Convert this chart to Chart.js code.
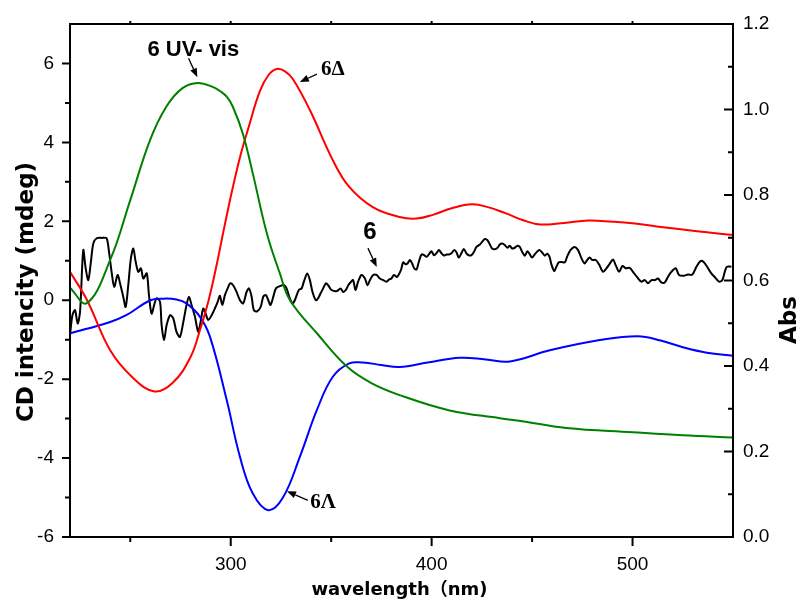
<!DOCTYPE html>
<html>
<head>
<meta charset="utf-8">
<script src="https://cdn.jsdelivr.net/npm/chart.js@4/dist/chart.umd.min.js"></script>
<style>
html,body{margin:0;padding:0;background:#fff;}
#wrap{width:803px;height:606px;position:relative;}
</style>
</head>
<body>
<div id="wrap"><canvas id="c"></canvas></div>
<script>
// ---- data (wavelength in nm) ----
const redWl  = [220,228.5,240,251,262,271,280,285,289,293,297,301,305,309,314.5,319,323,327,331,339.4,350.8,359,370.7,384,392.6,401,410,420,428,437,446,454,466,478,490,500,512,525,537,550];
const redCd  = [0.72,0,-1.27,-1.95,-2.31,-2.1,-1.44,-0.7,0,0.9,1.9,2.85,3.7,4.4,5.3,5.72,5.86,5.8,5.6,4.82,3.55,2.87,2.36,2.11,2.07,2.17,2.33,2.43,2.36,2.2,2.02,1.92,1.96,2.02,1.99,1.95,1.87,1.79,1.72,1.65];

const blueWl = [220,240,248,260,266.4,273,278,284.7,289.7,298,304.6,311,318.7,326,334.4,342.9,350.8,359,365.8,375,384,398,414,427,439,458.8,483.7,502.6,514,525,537,550];
const blueCd = [-0.84,-0.55,-0.38,0,0.04,0.02,-0.08,-0.42,-0.93,-2.53,-3.97,-4.9,-5.32,-5.0,-3.97,-2.78,-1.94,-1.6,-1.58,-1.64,-1.69,-1.58,-1.46,-1.5,-1.55,-1.27,-1.01,-0.91,-1.02,-1.19,-1.33,-1.41];

const greenWl  = [220,228.4,240,250,259.8,268,276,283.7,291,295,298,301,306,311,318,324.5,329.5,343,358,370,384,409,434,445,467,500,525,550];
const greenAbs = [0.583,0.547,0.648,0.788,0.928,1.007,1.05,1.062,1.053,1.042,1.03,1.007,0.944,0.85,0.71,0.616,0.554,0.476,0.398,0.36,0.332,0.296,0.278,0.271,0.255,0.245,0.238,0.233];

const blackWl = [220.0,221.2,222.5,223.8,225.0,226.6,227.8,229.1,230.4,231.6,233.3,235.8,238.2,239.4,240.7,242.0,243.7,244.9,246.5,247.7,249.0,250.3,251.5,252.7,254.0,255.3,256.5,258.2,259.3,260.6,261.9,263.1,264.8,265.6,266.8,268.1,269.8,271.4,273.0,274.7,276.4,278.0,279.2,280.5,282.2,283.8,285.0,286.3,287.5,288.8,290.5,292.1,293.5,294.6,295.8,297.1,298.8,299.8,301.2,302.9,304.6,306.2,307.9,309.1,310.4,311.5,313.2,314.9,316.2,317.5,318.7,319.8,321.2,322.5,324.5,326.6,327.8,329.1,330.7,331.9,333.9,335.3,336.4,338.1,339.4,340.7,342.4,343.5,344.7,346.0,347.4,348.5,350.2,352.7,354.7,356.0,357.3,358.5,359.6,360.9,362.1,363.4,365.1,366.8,368.1,369.3,370.9,372.6,374.2,375.9,377.5,378.9,380.0,381.2,382.8,384.7,385.8,387.0,388.0,389.2,390.3,391.3,392.5,393.6,395.0,396.3,397.5,398.6,399.9,401.2,402.4,403.6,404.9,406.2,407.4,408.6,409.9,411.2,412.4,413.5,414.8,416.0,417.3,418.5,419.8,421.1,422.3,424.0,425.1,426.5,427.8,429.0,430.1,431.4,432.8,433.9,435.1,436.4,437.7,438.9,440.0,441.4,442.7,443.9,445.0,446.4,447.7,448.9,450.0,451.3,452.7,453.8,455.0,456.3,457.6,458.7,459.6,461.0,462.1,463.3,464.6,466.3,467.4,469.1,471.2,472.9,474.6,476.2,477.4,478.7,480.0,481.7,483.3,485.3,487.0,488.7,490.3,491.6,493.3,495.0,496.6,498.6,500.2,502.2,504.4,506.1,507.7,509.4,511.0,512.7,514.3,516.0,517.6,519.3,521.5,523.1,525.5,527.6,529.8,531.8,533.8,535.4,537.1,539.2,540.9,543.0,544.7,545.9,547.0,549.2];
const blackCd = [-0.89,-0.38,-0.25,-0.59,-0.29,1.27,0.81,0.51,0.97,1.44,1.57,1.58,1.57,1.23,0.72,0.34,0.64,0.43,0.09,-0.17,0.38,1.06,1.31,0.97,0.72,0.81,0.55,0.68,0.13,-0.34,-0.12,0.05,-0.04,-0.63,-1.01,-0.63,-0.38,-0.46,-0.80,-0.93,-0.55,-0.12,0.09,-0.12,-0.42,-0.80,-0.55,-0.21,-0.34,-0.50,-0.38,-0.21,-0.04,0.11,-0.12,0.13,0.34,0.43,0.38,0.21,0.0,-0.08,0.21,0.30,0.09,-0.25,-0.28,-0.17,0.09,0.13,0.0,-0.12,0.09,0.30,0.36,0.38,0.30,0.09,-0.08,0.0,0.26,0.30,0.47,0.68,0.51,0.21,0.0,0.05,0.17,0.30,0.43,0.38,0.26,0.23,0.30,0.21,0.26,0.38,0.45,0.51,0.26,0.47,0.64,0.55,0.38,0.51,0.64,0.64,0.55,0.51,0.47,0.53,0.55,0.64,0.59,0.76,0.96,0.91,0.93,1.02,0.93,0.81,0.78,0.97,1.16,1.14,1.10,1.16,1.24,1.14,1.19,1.27,1.19,1.13,1.16,1.16,1.19,1.27,1.21,1.08,1.19,1.30,1.19,1.14,1.14,1.23,1.35,1.41,1.48,1.55,1.52,1.41,1.31,1.29,1.33,1.41,1.44,1.40,1.33,1.38,1.31,1.33,1.38,1.35,1.23,1.13,1.24,1.16,1.08,1.16,1.24,1.27,1.21,1.13,1.18,1.10,0.91,0.74,0.85,0.96,0.97,0.96,1.10,1.27,1.35,1.27,1.06,0.93,1.02,1.08,1.02,1.02,0.91,0.72,0.81,0.93,1.03,0.89,0.72,0.87,0.81,0.82,0.72,0.59,0.47,0.51,0.43,0.51,0.51,0.55,0.45,0.45,0.59,0.72,0.81,0.64,0.62,0.65,0.65,0.85,0.99,0.97,0.85,0.68,0.59,0.47,0.51,0.72,0.85,0.85];

// ---- tick labels ----
const xTickLabels      = [300,400,500];
const yLeftTickLabels  = [-6,-4,-2,0,2,4,6];
const yRightTickLabels = [0.0,0.2,0.4,0.6,0.8,1.0,1.2];

// ---- annotations (text, anchor in data units) ----
const annotations = [
  {text:'6 UV- vis', wl:281.4, cd:6.34, font:'bold 22px "Liberation Sans"', arrow:[279,6.13,283.4,5.65]},
  {text:'6\u0394', wl:350.8, cd:5.84, font:'bold 21px "Liberation Serif"', arrow:[342.9,5.73,334.4,5.53]},
  {text:'6', wl:369.3, cd:1.71, font:'bold 24px "Liberation Sans"', arrow:[368.3,1.32,372.7,0.84]},
  {text:'6\u039B', wl:346.0, cd:-5.13, font:'bold 21px "Liberation Serif"', arrow:[338.4,-5.07,328,-4.84]}
];

const pts = (xs, ys) => xs.map((x,i)=>({x:x, y:ys[i]}));

const framePlugin = {
  id:'frame',
  afterDatasetsDraw(chart){
    const {ctx, chartArea:a, scales} = chart;
    const sx = scales.x, sy = scales.y, sy2 = scales.y2;
    ctx.save();
    ctx.strokeStyle = '#000';
    ctx.lineWidth = 2;
    ctx.strokeRect(a.left, a.top, a.right - a.left, a.bottom - a.top);
    ctx.beginPath();
    for (let v = -6; v <= 6; v++) {
      const p = sy.getPixelForValue(v);
      const len = (v % 2 === 0) ? 8 : 5;
      ctx.moveTo(a.left - len, p); ctx.lineTo(a.left, p);
    }
    for (let k = 0; k <= 12; k++) {
      const p = sy2.getPixelForValue(k/10);
      const len = (k % 2 === 0) ? 9 : 5;
      ctx.moveTo(a.right - len, p); ctx.lineTo(a.right, p);
    }
    for (let v = 250; v <= 500; v += 50) {
      const p = sx.getPixelForValue(v);
      const len = (v % 100 === 0) ? 9 : 5;
      ctx.moveTo(p, a.bottom); ctx.lineTo(p, a.bottom + len);
    }
    for (let v = 250; v <= 500; v += 50) {
      const p = sx.getPixelForValue(v);
      ctx.moveTo(p, a.top - 3); ctx.lineTo(p, a.top);
    }
    ctx.stroke();

    // left tick labels, right-aligned
    ctx.fillStyle = '#000';
    ctx.font = '19px "Liberation Sans"';
    ctx.textAlign = 'right';
    ctx.textBaseline = 'middle';
    yLeftTickLabels.forEach(v => ctx.fillText(String(v), a.left - 16, sy.getPixelForValue(v)));

    // annotations
    annotations.forEach(an => {
      ctx.font = an.font;
      ctx.textAlign = 'center';
      ctx.fillText(an.text, sx.getPixelForValue(an.wl), sy.getPixelForValue(an.cd));
      const [w1,c1,w2,c2] = an.arrow;
      const x1 = sx.getPixelForValue(w1), y1 = sy.getPixelForValue(c1);
      const x2 = sx.getPixelForValue(w2), y2 = sy.getPixelForValue(c2);
      const ang = Math.atan2(y2-y1, x2-x1);
      const hl = 9, hw = 3.5;
      const bx = x2 - hl*Math.cos(ang), by = y2 - hl*Math.sin(ang);
      ctx.lineWidth = 1.3;
      ctx.beginPath(); ctx.moveTo(x1,y1); ctx.lineTo(bx,by); ctx.stroke();
      ctx.beginPath();
      ctx.moveTo(x2,y2);
      ctx.lineTo(bx + hw*Math.sin(ang), by - hw*Math.cos(ang));
      ctx.lineTo(bx - hw*Math.sin(ang), by + hw*Math.cos(ang));
      ctx.closePath(); ctx.fill();
    });

    // axis titles
    ctx.textAlign = 'center';
    ctx.textBaseline = 'middle';
    ctx.font = 'bold 18px "DejaVu Sans", "Noto Sans CJK SC"';
    ctx.fillText('wavelength\uFF08nm)', (a.left + a.right)/2 - 2, 590);
    ctx.save();
    ctx.translate(27, 292);
    ctx.rotate(-Math.PI/2);
    ctx.font = 'bold 23px "DejaVu Sans"';
    ctx.fillText('CD intencity (mdeg)', 0, 0);
    ctx.restore();
    ctx.save();
    ctx.translate(790, 320);
    ctx.rotate(-Math.PI/2);
    ctx.font = 'bold 23px "DejaVu Sans"';
    ctx.fillText('Abs', 0, 0);
    ctx.restore();
    ctx.restore();
  }
};

const tickFont = {family:'"Liberation Sans", Arial, sans-serif', size:19};
const smooth = {showLine:true, borderWidth:2, pointRadius:0, tension:0.4};

new Chart(document.getElementById('c'), {
  type:'scatter',
  data:{
    datasets:[
      Object.assign({label:'6 UV-vis', data:pts(greenWl, greenAbs), yAxisID:'y2', borderColor:'#008000'}, smooth),
      Object.assign({label:'6\u0394', data:pts(redWl, redCd), yAxisID:'y', borderColor:'#ff0000'}, smooth),
      Object.assign({label:'6\u039B', data:pts(blueWl, blueCd), yAxisID:'y', borderColor:'#0000ff'}, smooth),
      {label:'6', data:pts(blackWl, blackCd), yAxisID:'y', showLine:true, borderColor:'#000000', borderWidth:2, pointRadius:0, tension:0.3}
    ]
  },
  options:{
    responsive:true,
    maintainAspectRatio:false,
    animation:false,
    layout:{padding:{top:24, left:0, right:0, bottom:0}},
    plugins:{legend:{display:false}, tooltip:{enabled:false}},
    scales:{
      x:{
        type:'linear', position:'bottom', min:220, max:550,
        grid:{display:false, drawTicks:false, tickLength:0},
        border:{display:false},
        afterBuildTicks:(s)=>{ s.ticks = xTickLabels.map(v=>({value:v})); },
        afterFit:(s)=>{ s.height = 69; },
        ticks:{font:tickFont, color:'#000', padding:16, autoSkip:false, maxRotation:0, callback:(v)=>String(v)}
      },
      y:{
        type:'linear', position:'left', min:-6, max:7,
        grid:{display:false, drawTicks:false, tickLength:0},
        border:{display:false},
        afterBuildTicks:(s)=>{ s.ticks = yLeftTickLabels.map(v=>({value:v})); },
        afterFit:(s)=>{ s.width = 70; },
        ticks:{display:false}
      },
      y2:{
        type:'linear', position:'right', min:0, max:1.2,
        grid:{display:false, drawTicks:false, tickLength:0},
        border:{display:false},
        afterBuildTicks:(s)=>{ s.ticks = yRightTickLabels.map(v=>({value:v})); },
        afterFit:(s)=>{ s.width = 70; },
        ticks:{font:tickFont, color:'#000', padding:10, autoSkip:false, callback:(v)=>Number(v).toFixed(1)}
      }
    }
  },
  plugins:[framePlugin]
});
</script>
</body>
</html>
